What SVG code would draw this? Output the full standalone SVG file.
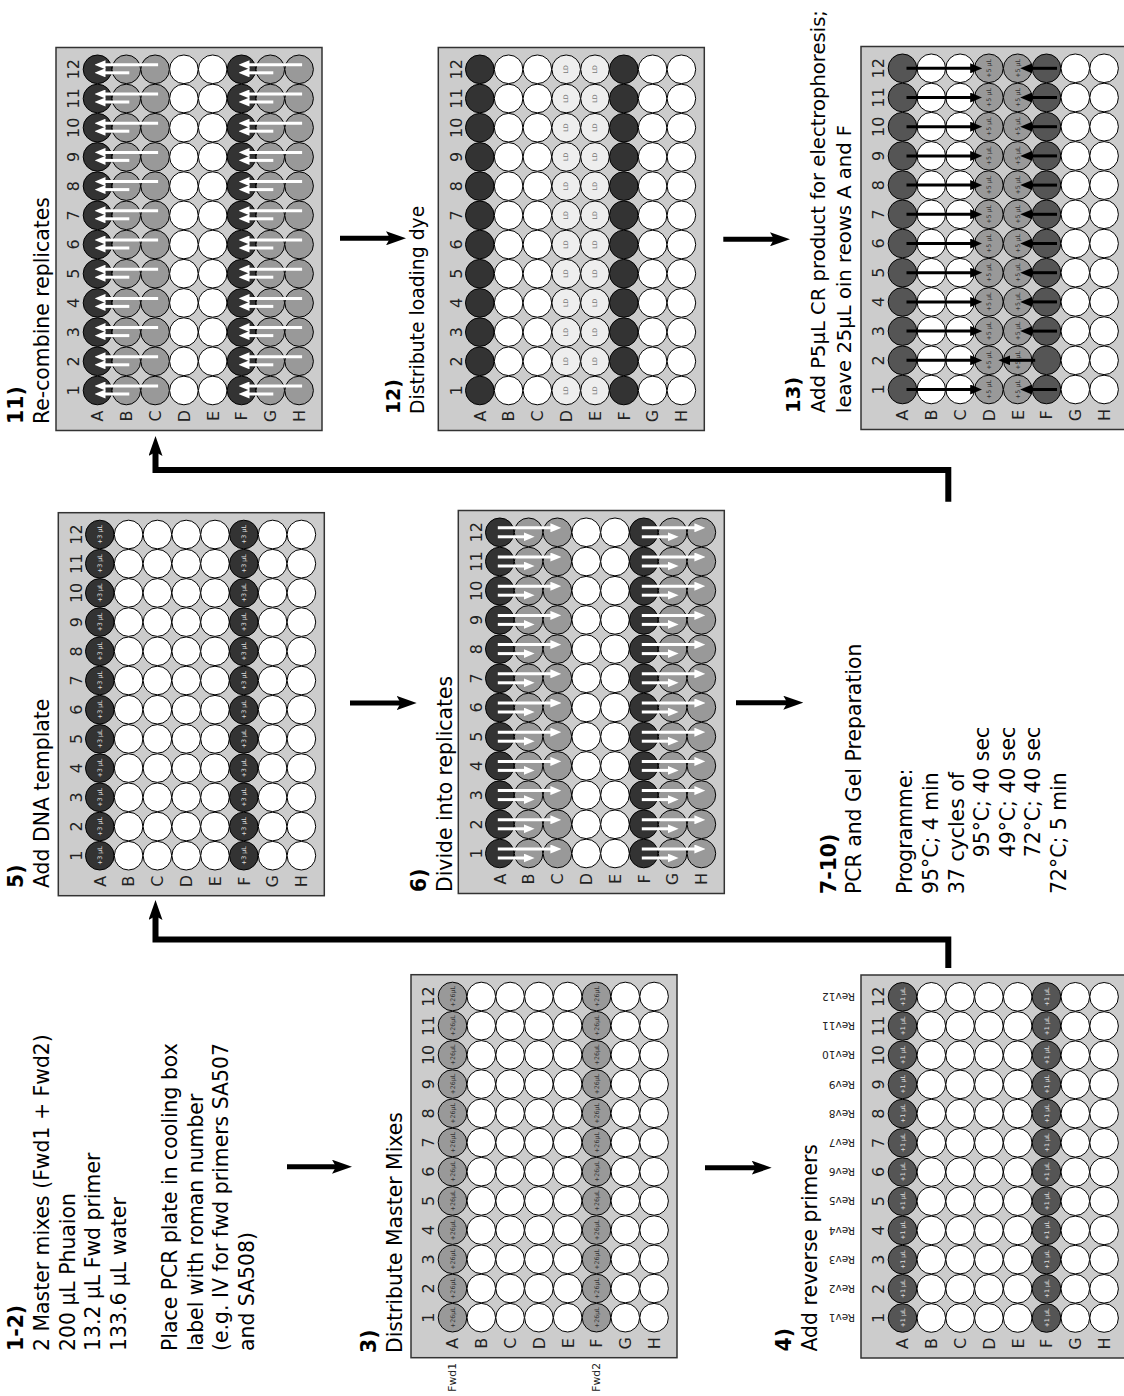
<svg xmlns="http://www.w3.org/2000/svg" xmlns:xlink="http://www.w3.org/1999/xlink" width="1124" height="1396" viewBox="0 0 1124 1396">
<defs>
<style>
text { font-family: "DejaVu Sans", Verdana, sans-serif; }
.t { font-size: 20.4px; fill: #000; }
.t13 { font-size: 19.6px; }
.t12 { font-size: 18.8px; }
.b { font-weight: bold; }
.plate { fill: #ccc; stroke: #333; stroke-width: 1.5; }
.w { stroke: #000; stroke-width: 1; }
.wh { fill: #fff; } .dk { fill: #333; } .md { fill: #555; } .gr { fill: #999; } .lt { fill: #eee; }
.n { font-size: 16px; text-anchor: middle; fill: #222; }
.s { font-size: 6.3px; text-anchor: middle; }
.rev { font-size: 10.5px; fill: #222; }
.fwd { font-size: 10.8px; fill: #222; }
.main { fill: none; stroke: #000; stroke-width: 5; marker-end: url(#ah); }
.elbow { fill: none; stroke: #000; stroke-width: 6; marker-end: url(#ah); }
.wa { stroke: #fff; stroke-width: 3; marker-end: url(#aw); }
.ba { stroke: #000; stroke-width: 3; marker-end: url(#ab); }
</style>
<marker id="ah" markerUnits="userSpaceOnUse" viewBox="0 0 20 14" refX="10" refY="7" markerWidth="20" markerHeight="14" orient="auto"><path d="M0,0 L20,7 L0,14 L4,7 z" fill="#000"/></marker>
<marker id="aw" markerUnits="userSpaceOnUse" viewBox="0 0 11 9" refX="5" refY="4.5" markerWidth="11" markerHeight="9" orient="auto"><path d="M0,0 L11,4.5 L0,9 z" fill="#fff"/></marker>
<marker id="ab" markerUnits="userSpaceOnUse" viewBox="0 0 12 10" refX="6" refY="5" markerWidth="12" markerHeight="10" orient="auto"><path d="M0,0 L12,5 L0,10 z" fill="#000"/></marker>
<g id="lbl" class="n">
<text x="40" y="23.4">1</text><text x="69.2" y="23.4">2</text><text x="98.4" y="23.4">3</text><text x="127.6" y="23.4">4</text><text x="156.8" y="23.4">5</text><text x="186" y="23.4">6</text><text x="215.2" y="23.4">7</text><text x="244.4" y="23.4">8</text><text x="273.6" y="23.4">9</text><text x="302.8" y="23.4">10</text><text x="332" y="23.4">11</text><text x="361.2" y="23.4">12</text>
<text x="14.5" y="47.3">A</text><text x="14.5" y="76.1">B</text><text x="14.5" y="104.9">C</text><text x="14.5" y="133.7">D</text><text x="14.5" y="162.5">E</text><text x="14.5" y="191.3">F</text><text x="14.5" y="220.1">G</text><text x="14.5" y="248.9">H</text>
</g>
<g id="c3">
<circle cy="41.5" r="14.3" class="w gr"/><circle cy="70.3" r="14.3" class="w wh"/><circle cy="99.1" r="14.3" class="w wh"/><circle cy="127.9" r="14.3" class="w wh"/><circle cy="156.7" r="14.3" class="w wh"/><circle cy="185.5" r="14.3" class="w gr"/><circle cy="214.3" r="14.3" class="w wh"/><circle cy="243.1" r="14.3" class="w wh"/>
<text class="s" y="43.8" fill="#333">+26µL</text><text class="s" y="187.8" fill="#333">+26µL</text>
</g>
<g id="c4">
<circle cy="41.5" r="14.3" class="w md"/><circle cy="70.3" r="14.3" class="w wh"/><circle cy="99.1" r="14.3" class="w wh"/><circle cy="127.9" r="14.3" class="w wh"/><circle cy="156.7" r="14.3" class="w wh"/><circle cy="185.5" r="14.3" class="w md"/><circle cy="214.3" r="14.3" class="w wh"/><circle cy="243.1" r="14.3" class="w wh"/>
<text class="s" y="43.8" fill="#ddd">+1 µL</text><text class="s" y="187.8" fill="#ddd">+1 µL</text>
</g>
<g id="c5">
<circle cy="41.5" r="14.3" class="w dk"/><circle cy="70.3" r="14.3" class="w wh"/><circle cy="99.1" r="14.3" class="w wh"/><circle cy="127.9" r="14.3" class="w wh"/><circle cy="156.7" r="14.3" class="w wh"/><circle cy="185.5" r="14.3" class="w dk"/><circle cy="214.3" r="14.3" class="w wh"/><circle cy="243.1" r="14.3" class="w wh"/>
<text class="s" y="43.8" fill="#ddd">+3 µL</text><text class="s" y="187.8" fill="#ddd">+3 µL</text>
</g>
<g id="c6">
<circle cy="41.5" r="14.3" class="w dk"/><circle cy="70.3" r="14.3" class="w gr"/><circle cy="99.1" r="14.3" class="w gr"/><circle cy="127.9" r="14.3" class="w wh"/><circle cy="156.7" r="14.3" class="w wh"/><circle cy="185.5" r="14.3" class="w dk"/><circle cy="214.3" r="14.3" class="w gr"/><circle cy="243.1" r="14.3" class="w gr"/>
<line class="wa" x1="4.5" y1="39.5" x2="4.5" y2="97.1"/><line class="wa" x1="-4.5" y1="39.5" x2="-4.5" y2="70.3"/>
<line class="wa" x1="4.5" y1="183.5" x2="4.5" y2="241.1"/><line class="wa" x1="-4.5" y1="183.5" x2="-4.5" y2="214.3"/>
</g>
<g id="c11">
<circle cy="41.5" r="14.3" class="w dk"/><circle cy="70.3" r="14.3" class="w gr"/><circle cy="99.1" r="14.3" class="w gr"/><circle cy="127.9" r="14.3" class="w wh"/><circle cy="156.7" r="14.3" class="w wh"/><circle cy="185.5" r="14.3" class="w dk"/><circle cy="214.3" r="14.3" class="w gr"/><circle cy="243.1" r="14.3" class="w gr"/>
<line class="wa" x1="4.5" y1="102.1" x2="4.5" y2="44.5"/><line class="wa" x1="-3.5" y1="73.3" x2="-3.5" y2="44.5"/>
<line class="wa" x1="4.5" y1="246.1" x2="4.5" y2="188.5"/><line class="wa" x1="-3.5" y1="217.3" x2="-3.5" y2="188.5"/>
</g>
<g id="c12">
<circle cy="41.5" r="14.3" class="w dk"/><circle cy="70.3" r="14.3" class="w wh"/><circle cy="99.1" r="14.3" class="w wh"/><circle cy="127.9" r="14.3" class="w lt"/><circle cy="156.7" r="14.3" class="w lt"/><circle cy="185.5" r="14.3" class="w dk"/><circle cy="214.3" r="14.3" class="w wh"/><circle cy="243.1" r="14.3" class="w wh"/>
<text class="s" y="130.2" fill="#777">LD</text><text class="s" y="159" fill="#777">LD</text>
</g>
<g id="c13">
<circle cy="41.5" r="14.3" class="w md"/><circle cy="70.3" r="14.3" class="w wh"/><circle cy="99.1" r="14.3" class="w wh"/><circle cy="127.9" r="14.3" class="w gr"/><circle cy="156.7" r="14.3" class="w gr"/><circle cy="185.5" r="14.3" class="w md"/><circle cy="214.3" r="14.3" class="w wh"/><circle cy="243.1" r="14.3" class="w wh"/>
<text class="s" y="130.2" fill="#333">+5 µL</text><text class="s" y="159" fill="#333">+5 µL</text>
<line class="ba" x1="0" y1="45.5" x2="0" y2="115.2"/>
</g>
<line id="sa" class="ba" x1="0" y1="196" x2="0" y2="165.2"/>
</defs>

<g transform="matrix(0,-1,1,0,0,1396)">

<g id="step1-2">
<text class="t b" x="45" y="23.3">1-2)</text>
<text class="t" x="45" y="48.9">2 Master mixes (Fwd1 + Fwd2)</text>
<text class="t" x="45" y="74.5">200 µL Phuaion</text>
<text class="t" x="45" y="100.1">13.2 µL Fwd primer</text>
<text class="t" x="45" y="125.7">133.6 µL water</text>
<text class="t" x="45" y="176.9">Place PCR plate in cooling box</text>
<text class="t" x="45" y="202.5">label with roman number</text>
<text class="t" x="45" y="228.1">(e.g. IV for fwd primers SA507</text>
<text class="t" x="45" y="253.7">and SA508)</text>
</g>

<g id="step3">
<text class="t b" x="43" y="376">3)</text>
<text class="t" x="43" y="401.6">Distribute Master Mixes</text>
<g transform="translate(38.3,411)">
<rect class="plate" width="383" height="266"/>
<use xlink:href="#lbl"/>
<use xlink:href="#c3" x="40"/><use xlink:href="#c3" x="69.2"/><use xlink:href="#c3" x="98.4"/><use xlink:href="#c3" x="127.6"/><use xlink:href="#c3" x="156.8"/><use xlink:href="#c3" x="186"/><use xlink:href="#c3" x="215.2"/><use xlink:href="#c3" x="244.4"/><use xlink:href="#c3" x="273.6"/><use xlink:href="#c3" x="302.8"/><use xlink:href="#c3" x="332"/><use xlink:href="#c3" x="361.2"/>
</g>
<text class="fwd" x="4.3" y="456.4">Fwd1</text>
<text class="fwd" x="4.3" y="600.4">Fwd2</text>
</g>

<g id="step4">
<text class="t b" x="44.5" y="791">4)</text>
<text class="t" x="44.5" y="816.6">Add reverse primers</text>
<g transform="translate(38,861)">
<rect class="plate" width="383" height="266"/>
<use xlink:href="#lbl"/>
<use xlink:href="#c4" x="40"/><use xlink:href="#c4" x="69.2"/><use xlink:href="#c4" x="98.4"/><use xlink:href="#c4" x="127.6"/><use xlink:href="#c4" x="156.8"/><use xlink:href="#c4" x="186"/><use xlink:href="#c4" x="215.2"/><use xlink:href="#c4" x="244.4"/><use xlink:href="#c4" x="273.6"/><use xlink:href="#c4" x="302.8"/><use xlink:href="#c4" x="332"/><use xlink:href="#c4" x="361.2"/>
</g>
</g>

<g id="step5">
<text class="t b" x="508" y="23.3">5)</text>
<text class="t" x="508" y="48.9">Add DNA template</text>
<g transform="translate(500.3,58.3)">
<rect class="plate" width="383" height="266"/>
<use xlink:href="#lbl"/>
<use xlink:href="#c5" x="40"/><use xlink:href="#c5" x="69.2"/><use xlink:href="#c5" x="98.4"/><use xlink:href="#c5" x="127.6"/><use xlink:href="#c5" x="156.8"/><use xlink:href="#c5" x="186"/><use xlink:href="#c5" x="215.2"/><use xlink:href="#c5" x="244.4"/><use xlink:href="#c5" x="273.6"/><use xlink:href="#c5" x="302.8"/><use xlink:href="#c5" x="332"/><use xlink:href="#c5" x="361.2"/>
</g>
</g>

<g id="step6">
<text class="t b" x="504" y="426">6)</text>
<text class="t" x="504" y="451.6">Divide into replicates</text>
<g transform="translate(502.5,458.3)">
<rect class="plate" width="383" height="266"/>
<use xlink:href="#lbl"/>
<use xlink:href="#c6" x="40"/><use xlink:href="#c6" x="69.2"/><use xlink:href="#c6" x="98.4"/><use xlink:href="#c6" x="127.6"/><use xlink:href="#c6" x="156.8"/><use xlink:href="#c6" x="186"/><use xlink:href="#c6" x="215.2"/><use xlink:href="#c6" x="244.4"/><use xlink:href="#c6" x="273.6"/><use xlink:href="#c6" x="302.8"/><use xlink:href="#c6" x="332"/><use xlink:href="#c6" x="361.2"/>
</g>
</g>

<g id="step7-10">
<text class="t b" x="502" y="835.5">7-10)</text>
<text class="t" x="502" y="861.1">PCR and Gel Preparation</text>
<text class="t" x="502" y="912.3">Programme:</text>
<text class="t" x="502" y="937.9">95°C; 4 min</text>
<text class="t" x="502" y="963.5">37 cycles of</text>
<text class="t" x="538.7" y="989.1">95°C; 40 sec</text>
<text class="t" x="538.7" y="1014.7">49°C; 40 sec</text>
<text class="t" x="538.7" y="1040.3">72°C; 40 sec</text>
<text class="t" x="502" y="1065.9">72°C; 5 min</text>
</g>

<g id="step11">
<text class="t b" x="972" y="23.3">11)</text>
<text class="t" x="972" y="48.9">Re-combine replicates</text>
<g transform="translate(965.5,56)">
<rect class="plate" width="383" height="266"/>
<use xlink:href="#lbl"/>
<use xlink:href="#c11" x="40"/><use xlink:href="#c11" x="69.2"/><use xlink:href="#c11" x="98.4"/><use xlink:href="#c11" x="127.6"/><use xlink:href="#c11" x="156.8"/><use xlink:href="#c11" x="186"/><use xlink:href="#c11" x="215.2"/><use xlink:href="#c11" x="244.4"/><use xlink:href="#c11" x="273.6"/><use xlink:href="#c11" x="302.8"/><use xlink:href="#c11" x="332"/><use xlink:href="#c11" x="361.2"/>
</g>
</g>

<g id="step12">
<text class="t t12 b" x="982" y="400">12)</text>
<text class="t t12" x="982" y="423.5">Distribute loading dye</text>
<g transform="translate(965.5,438.3)">
<rect class="plate" width="383" height="266"/>
<use xlink:href="#lbl"/>
<use xlink:href="#c12" x="40"/><use xlink:href="#c12" x="69.2"/><use xlink:href="#c12" x="98.4"/><use xlink:href="#c12" x="127.6"/><use xlink:href="#c12" x="156.8"/><use xlink:href="#c12" x="186"/><use xlink:href="#c12" x="215.2"/><use xlink:href="#c12" x="244.4"/><use xlink:href="#c12" x="273.6"/><use xlink:href="#c12" x="302.8"/><use xlink:href="#c12" x="332"/><use xlink:href="#c12" x="361.2"/>
</g>
</g>

<g id="step13">
<text class="t t13 b" x="983" y="800">13)</text>
<text class="t t13" x="983" y="825.4">Add P5µL CR product for electrophoresis;</text>
<text class="t t13" x="983" y="850.8">leave 25µL oin reows A and F</text>
<g transform="translate(966.5,861)">
<rect class="plate" width="383" height="266"/>
<use xlink:href="#lbl"/>
<use xlink:href="#c13" x="40"/><use xlink:href="#c13" x="69.2"/><use xlink:href="#c13" x="98.4"/><use xlink:href="#c13" x="127.6"/><use xlink:href="#c13" x="156.8"/><use xlink:href="#c13" x="186"/><use xlink:href="#c13" x="215.2"/><use xlink:href="#c13" x="244.4"/><use xlink:href="#c13" x="273.6"/><use xlink:href="#c13" x="302.8"/><use xlink:href="#c13" x="332"/><use xlink:href="#c13" x="361.2"/>
<use xlink:href="#sa" x="40"/><line class="ba" x1="69.2" y1="174.2" x2="69.2" y2="143.3"/><use xlink:href="#sa" x="98.4"/><use xlink:href="#sa" x="127.6"/><use xlink:href="#sa" x="156.8"/><use xlink:href="#sa" x="186"/><use xlink:href="#sa" x="215.2"/><use xlink:href="#sa" x="244.4"/><use xlink:href="#sa" x="273.6"/><use xlink:href="#sa" x="302.8"/><use xlink:href="#sa" x="332"/><use xlink:href="#sa" x="361.2"/>
</g>
</g>

<g id="connectors">
<line class="main" x1="229.3" y1="287" x2="229.3" y2="342"/>
<line class="main" x1="228.3" y1="705" x2="228.3" y2="761.7"/>
<line class="main" x1="693" y1="350" x2="693" y2="406.7"/>
<line class="main" x1="693.3" y1="736" x2="693.3" y2="793.3"/>
<line class="main" x1="1157.7" y1="340" x2="1157.7" y2="396"/>
<line class="main" x1="1156.7" y1="723.3" x2="1156.7" y2="780"/>
<path class="elbow" d="M428,948.3 H456.5 V155.5 H486"/>
<path class="elbow" d="M894.3,948.3 H926 V155.5 H950"/>
</g>
</g>

<g id="rev-labels" class="rev">
<text transform="translate(855,1318) rotate(180)" y="3.8">Rev1</text>
<text transform="translate(855,1288.8) rotate(180)" y="3.8">Rev2</text>
<text transform="translate(855,1259.6) rotate(180)" y="3.8">Rev3</text>
<text transform="translate(855,1230.4) rotate(180)" y="3.8">Rev4</text>
<text transform="translate(855,1201.2) rotate(180)" y="3.8">Rev5</text>
<text transform="translate(855,1172) rotate(180)" y="3.8">Rev6</text>
<text transform="translate(855,1142.8) rotate(180)" y="3.8">Rev7</text>
<text transform="translate(855,1113.6) rotate(180)" y="3.8">Rev8</text>
<text transform="translate(855,1084.4) rotate(180)" y="3.8">Rev9</text>
<text transform="translate(855,1055.2) rotate(180)" y="3.8">Rev10</text>
<text transform="translate(855,1026) rotate(180)" y="3.8">Rev11</text>
<text transform="translate(855,996.8) rotate(180)" y="3.8">Rev12</text>
</g>
</svg>
